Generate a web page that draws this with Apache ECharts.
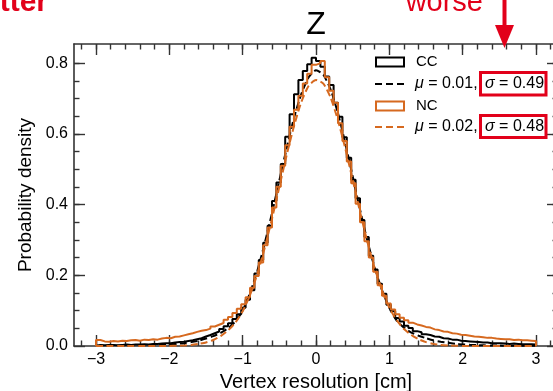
<!DOCTYPE html>
<html><head><meta charset="utf-8">
<script src="https://cdn.jsdelivr.net/npm/echarts@6/dist/echarts.min.js"></script>
<style>html,body{margin:0;padding:0;background:#fff}#c{width:553px;height:391px}</style>
</head><body><div id="c"></div><script>
// ---- data ----
const binStart = -3.0;
const binWidth = 0.06;
const ccHist = [
0.003,0.002,0.003,0.003,0.002,0.003,0.004,0.003,0.004,0.004,
0.005,0.004,0.006,0.006,0.007,0.008,0.008,0.010,0.011,0.012,
0.014,0.016,0.019,0.022,0.027,0.031,0.036,0.041,0.048,0.056,
0.064,0.076,0.090,0.108,0.131,0.158,0.205,0.243,0.292,0.340,
0.410,0.462,0.515,0.592,0.655,0.712,0.752,0.778,0.797,0.815,
0.806,0.790,0.762,0.738,0.688,0.648,0.590,0.532,0.470,0.418,
0.356,0.308,0.255,0.216,0.176,0.148,0.117,0.098,0.079,0.069,
0.057,0.051,0.042,0.039,0.033,0.031,0.027,0.026,0.022,0.021,
0.018,0.018,0.015,0.014,0.013,0.012,0.011,0.010,0.010,0.008,
0.008,0.008,0.007,0.006,0.007,0.006,0.005,0.005,0.005,0.004
];
const ncHist = [
0.017,0.013,0.012,0.014,0.013,0.015,0.014,0.016,0.017,0.015,
0.018,0.017,0.019,0.018,0.021,0.023,0.022,0.026,0.027,0.030,
0.033,0.036,0.040,0.043,0.045,0.049,0.055,0.060,0.065,0.074,
0.082,0.093,0.105,0.118,0.138,0.165,0.198,0.236,0.285,0.335,
0.392,0.450,0.510,0.568,0.620,0.668,0.708,0.742,0.770,0.795,
0.800,0.806,0.760,0.722,0.688,0.630,0.580,0.522,0.460,0.402,
0.350,0.296,0.250,0.210,0.172,0.142,0.120,0.103,0.090,0.080,
0.073,0.066,0.061,0.058,0.054,0.052,0.047,0.045,0.041,0.040,
0.036,0.035,0.032,0.031,0.029,0.027,0.026,0.025,0.023,0.023,
0.021,0.020,0.019,0.019,0.017,0.018,0.016,0.016,0.015,0.014
];
const fitStart = -3.0;
const fitStep = 0.1;
const ccFit = [
0.0005,0.0005,0.0006,0.0007,0.0008,0.0010,0.0012,0.0015,0.0020,0.0030,
0.0040,0.006,0.008,0.011,0.015,0.021,0.028,0.037,0.050,0.069,
0.100,0.150,0.213,0.290,0.376,0.468,0.560,0.645,0.713,0.760,
0.780,
0.767,0.725,0.658,0.573,0.480,0.386,0.298,0.221,0.158,0.108,
0.072,0.052,0.038,0.029,0.022,0.016,0.012,0.009,0.006,0.0045,
0.0033,0.0025,0.0018,0.0014,0.0011,0.0009,0.0007,0.0006,0.0005,0.0005
];
const ncFit = [
0,0,0,0,0,0,0,0,0,0,
0.0003,0.0007,0.0015,0.003,0.006,0.010,0.017,0.028,0.044,0.066,
0.098,0.144,0.204,0.277,0.360,0.450,0.540,0.622,0.690,0.736,
0.752,
0.742,0.702,0.638,0.558,0.470,0.380,0.295,0.220,0.158,0.108,
0.073,0.048,0.031,0.019,0.011,0.006,0.003,0.0015,0.0007,0.0003,
0,0,0,0,0,0,0,0,0,0
];
const seriesNames = ['CC', 'μ = 0.01, σ = 0.49', 'NC', 'μ = 0.02, σ = 0.48'];
const muTexts = ['{i|μ} = 0.01,', '{i|μ} = 0.02,'];
const sigmaTexts = ['{i|σ} = 0.49', '{i|σ} = 0.48'];
const xMajorTicks = [-3,-2,-1,0,1,2,3];
const yMajorTicks = [0,0.2,0.4,0.6,0.8];
const xMinorTicks = [];
for (let k = -16; k <= 16; k++) xMinorTicks.push(+(k*0.2).toFixed(1));
const yMinorTicks = [];
for (let k = 1; k <= 16; k++) yMinorTicks.push(+(k*0.05).toFixed(2));

// ---- build ----
function stepPoints(vals){
  const pts = [[binStart, 0]];
  vals.forEach((v,i)=>{ const x0 = binStart + i*binWidth; pts.push([x0, v], [x0 + binWidth, v]); });
  pts.push([binStart + vals.length*binWidth, 0]);
  return pts;
}
function fitPoints(vals){ return vals.map((v,i)=>[fitStart + i*fitStep, v]); }

const BLACK = '#000000', ORANGE = '#d6691f', RED = '#e2001a', AX = '#333333';
const FONT = '"Liberation Sans", Arial, sans-serif';

function xAxis(pos, ticks, len, main){
  return {
    type:'value', position:pos, min:-3.3, max:3.3,
    axisLine:{show:main, onZero:false, lineStyle:{color:AX, width:1.6}},
    axisTick:{show:true, inside:true, length:len, customValues:ticks, lineStyle:{color:AX, width:1.4}},
    axisLabel:{show:(main && pos==='bottom'), customValues:ticks, margin:6, fontSize:16, color:'#000', fontFamily:FONT,
      formatter:v => (v<0?'\u2212':'') + Math.abs(v)},
    splitLine:{show:false},
    name:(main && pos==='bottom') ? 'Vertex resolution [cm]' : '',
    nameLocation:'middle', nameGap:24,
    nameTextStyle:{fontSize:20, color:'#000', fontFamily:FONT}
  };
}
function yAxis(pos, ticks, len, main){
  return {
    type:'value', position:pos, min:0, max:0.854,
    axisLine:{show:main, onZero:false, lineStyle:{color:AX, width:1.6}},
    axisTick:{show:true, inside:true, length:len, customValues:ticks, lineStyle:{color:AX, width:1.4}},
    axisLabel:{show:(main && pos==='left'), customValues:ticks, margin:6, fontSize:16, color:'#000', fontFamily:FONT,
      formatter:v => v.toFixed(1)},
    splitLine:{show:false},
    name:(main && pos==='left') ? 'Probability density' : '',
    nameLocation:'middle', nameGap:38,
    nameTextStyle:{fontSize:19, color:'#000', fontFamily:FONT}
  };
}

const chart = echarts.init(document.getElementById('c'), null, {renderer:'canvas'});
const legendRows = [62, 84, 106, 127];
const LF = '15px ' + FONT;
const MF = '16px ' + FONT;
const rich = {i:{fontStyle:'italic', fontSize:16, fontFamily:FONT, fill:'#000'}};
function txt(x, y, text, font, extra){
  return Object.assign({type:'text', x:x, y:y, z:100, style:Object.assign({text:text, font:font, fill:'#000', textVerticalAlign:'middle', verticalAlign:'middle'}, extra||{})});
}
const option = {
  animation:false,
  backgroundColor:'#ffffff',
  textStyle:{fontFamily:FONT},
  grid:{left:74, top:44, width:484, height:302, containLabel:false, outerBoundsMode:'none'},
  xAxis:[ xAxis('bottom', xMajorTicks, 11, true), xAxis('bottom', xMinorTicks, 5.5, false),
          xAxis('top', xMajorTicks, 11, true), xAxis('top', xMinorTicks, 5.5, false) ],
  yAxis:[ yAxis('left', yMajorTicks, 11, true), yAxis('left', yMinorTicks, 5.5, false),
          yAxis('right', yMajorTicks, 11, true), yAxis('right', yMinorTicks, 5.5, false) ],
  series:[
    {name:seriesNames[0], type:'line', xAxisIndex:0, yAxisIndex:0, data:stepPoints(ccHist), symbol:'none',
     lineStyle:{color:BLACK, width:2}, z:2},
    {name:seriesNames[1], type:'line', xAxisIndex:0, yAxisIndex:0, data:fitPoints(ccFit), symbol:'none', smooth:0.2,
     lineStyle:{color:BLACK, width:2, type:[7,3.5]}, z:3},
    {name:seriesNames[2], type:'line', xAxisIndex:0, yAxisIndex:0, data:stepPoints(ncHist), symbol:'none',
     lineStyle:{color:ORANGE, width:2}, z:4},
    {name:seriesNames[3], type:'line', xAxisIndex:0, yAxisIndex:0, data:fitPoints(ncFit), symbol:'none', smooth:0.2,
     lineStyle:{color:ORANGE, width:2, type:[7,3.5]}, z:5}
  ],
  graphic:{elements:[
    {type:'text', x:316, y:25, z:100, style:{text:'Z', font:'32px '+FONT, fill:'#000', textAlign:'center', textVerticalAlign:'middle', align:'center', verticalAlign:'middle'}},
    // legend
    {type:'rect', z:100, shape:{x:376, y:legendRows[0]-4.5, width:28, height:9}, style:{fill:'#fff', stroke:BLACK, lineWidth:2}},
    {type:'line', z:100, shape:{x1:375, y1:legendRows[1], x2:405, y2:legendRows[1]}, style:{stroke:BLACK, lineWidth:2, lineDash:[7,4]}},
    {type:'rect', z:100, shape:{x:376, y:legendRows[2]-4.5, width:28, height:9}, style:{fill:'#fff', stroke:ORANGE, lineWidth:2}},
    {type:'line', z:100, shape:{x1:375, y1:legendRows[3], x2:405, y2:legendRows[3]}, style:{stroke:ORANGE, lineWidth:2, lineDash:[7,4]}},
    txt(416, legendRows[0], seriesNames[0], LF),
    txt(415, legendRows[1], muTexts[0], MF, {rich:rich}),
    txt(485, legendRows[1], sigmaTexts[0], MF, {rich:rich}),
    txt(416, legendRows[2], seriesNames[2], LF),
    txt(415, legendRows[3], muTexts[1], MF, {rich:rich}),
    txt(485, legendRows[3], sigmaTexts[1], MF, {rich:rich}),
    // red annotation boxes
    {type:'rect', z:110, shape:{x:480.5, y:72.5, width:65.5, height:22.5}, style:{fill:'none', stroke:RED, lineWidth:3}},
    {type:'rect', z:110, shape:{x:480.5, y:115.5, width:65.5, height:22}, style:{fill:'none', stroke:RED, lineWidth:3}},
    // red texts + arrow
    {type:'text', x:48, y:3, z:110, style:{text:'better', font:'bold 30px '+FONT, fill:RED, textAlign:'right', align:'right', textVerticalAlign:'middle', verticalAlign:'middle'}},
    {type:'text', x:483, y:3, z:110, style:{text:'worse', font:'29px '+FONT, fill:RED, textAlign:'right', align:'right', textVerticalAlign:'middle', verticalAlign:'middle'}},
    {type:'line', z:110, shape:{x1:504.5, y1:0, x2:504.5, y2:27}, style:{stroke:RED, lineWidth:4}},
    {type:'polygon', z:110, shape:{points:[[495,25],[514,25],[504.5,48]]}, style:{fill:RED}}
  ]}
};
chart.setOption(option);
</script></body></html>
